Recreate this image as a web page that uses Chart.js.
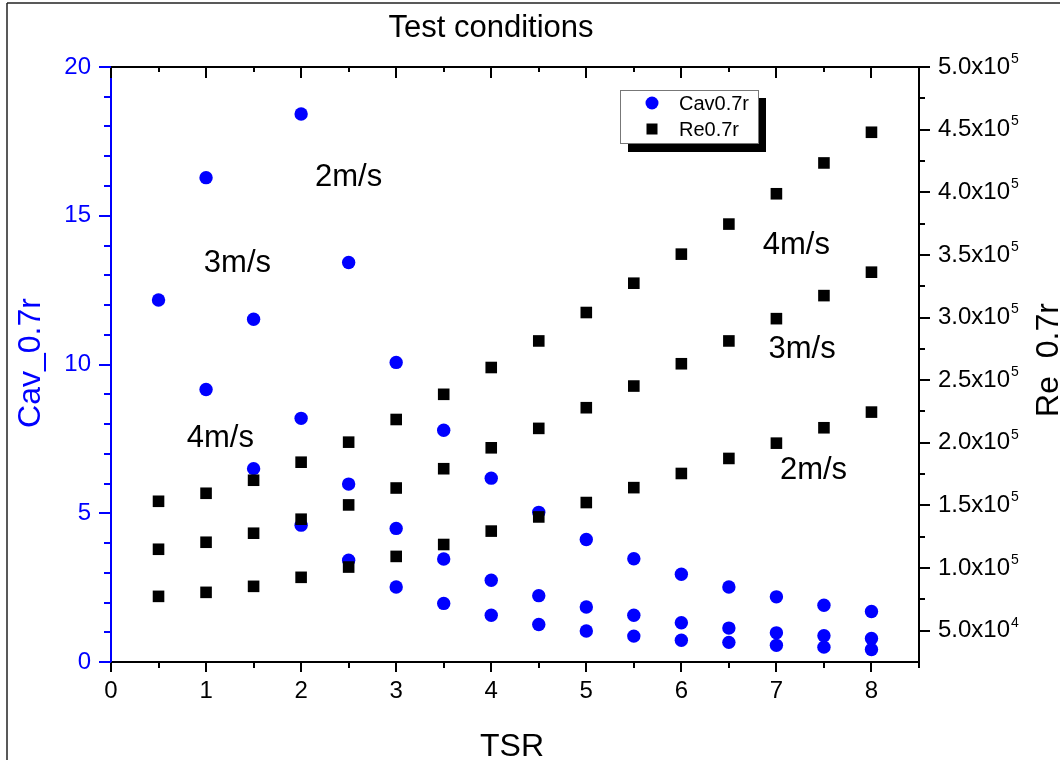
<!DOCTYPE html>
<html>
<head>
<meta charset="utf-8">
<title>Test conditions</title>
<script src="https://cdn.jsdelivr.net/npm/chart.js@4.4.0/dist/chart.umd.min.js"></script>
<style>
  html, body { margin: 0; padding: 0; background: #fff; }
  #wrap { width: 1060px; height: 760px; }
</style>
</head>
<body>
<div id="wrap"><canvas id="chart" width="1060" height="760"></canvas></div>
<script>
// --- values ---
const tsr = [0.5, 1, 1.5, 2, 2.5, 3, 3.5, 4, 4.5, 5, 5.5, 6, 6.5, 7, 7.5, 8];

// cavitation number at 0.7r (left axis), null where the point is above 20
const cav2 = [null, null, null, 18.42, 13.43, 10.07, 7.79, 6.18, 5.03, 4.12, 3.47, 2.95, 2.52, 2.19, 1.91, 1.70];
const cav3 = [null, 16.28, 11.52, 8.19, 5.98, 4.49, 3.46, 2.75, 2.23, 1.85, 1.57, 1.32, 1.14, 0.98, 0.88, 0.79];
const cav4 = [12.17, 9.16, 6.50, 4.60, 3.42, 2.52, 1.97, 1.57, 1.26, 1.04, 0.87, 0.73, 0.66, 0.56, 0.50, 0.42];

// Reynolds number at 0.7r (right axis)
const re2 = [77400, 80600, 85400, 92600, 100800, 109300, 118800, 129500, 140800, 152300, 164200, 175500, 187500, 199700, 212000, 224500];
const re3 = [115000, 120600, 127800, 139000, 150400, 163900, 179300, 196000, 211500, 228000, 245300, 263100, 281300, 299100, 317500, 336200];
const re4 = [153300, 159700, 170100, 184500, 200500, 218600, 238700, 260100, 281300, 304000, 327400, 350600, 374600, 398800, 423400, 447900];

// axis ticks
const xTicks = [0, 1, 2, 3, 4, 5, 6, 7, 8];
const xTickLabels = ['0', '1', '2', '3', '4', '5', '6', '7', '8'];
const cavTicks = [0, 5, 10, 15, 20];
const cavTickLabels = ['0', '5', '10', '15', '20'];
const reTicks = [50000, 100000, 150000, 200000, 250000, 300000, 350000, 400000, 450000, 500000];
const reTickLabels = ['5.0x10^4', '1.0x10^5', '1.5x10^5', '2.0x10^5', '2.5x10^5',
                      '3.0x10^5', '3.5x10^5', '4.0x10^5', '4.5x10^5', '5.0x10^5'];

// speed labels, anchored in TSR / Cav coordinates
const speedLabels = ['2m/s', '3m/s', '4m/s', '4m/s', '3m/s', '2m/s'];
const speedLabelTsr = [2.5, 1.33, 1.15, 7.21, 7.27, 7.39];
const speedLabelCav = [16.3, 13.4, 7.5, 14.0, 10.5, 6.45];

const FONT = '"Liberation Sans", Arial, sans-serif';
const BLUE = '#0000ff';

function points(values) {
    return tsr.map((t, i) => ({ x: t, y: values[i] })).filter(p => p.y !== null);
}

function cavSet(values) {
    return {
        label: 'Cav0.7r', data: points(values), yAxisID: 'y', order: 1,
        pointStyle: 'circle', pointRadius: 6.7,
        pointBackgroundColor: BLUE, pointBorderColor: BLUE, pointBorderWidth: 0
    };
}

function reSet(values) {
    return {
        label: 'Re0.7r', data: points(values), yAxisID: 'y2', order: 0,
        pointStyle: 'rect', pointRadius: 8.2,
        pointBackgroundColor: '#000', pointBorderColor: '#000', pointBorderWidth: 0
    };
}

function line(ctx, x1, y1, x2, y2) {
    ctx.beginPath();
    ctx.moveTo(x1, y1);
    ctx.lineTo(x2, y2);
    ctx.stroke();
}

// ticks, titles, labels and the legend box
const decorations = {
    id: 'decorations',
    afterDraw(chart) {
        const ctx = chart.ctx;
        const area = chart.chartArea;
        const xs = chart.scales.x, yl = chart.scales.y, yr = chart.scales.y2;
        ctx.save();

        // outer frame
        ctx.strokeStyle = '#222';
        ctx.lineWidth = 1.5;
        line(ctx, 7, 3, 7, 760);
        line(ctx, 7, 3, 1060, 3);

        // top axis line
        ctx.strokeStyle = '#000';
        ctx.lineWidth = 2;
        line(ctx, area.left - 1, area.top, area.right + 1, area.top);

        // x ticks, bottom (out) and top (in)
        for (let v = 0; v <= 8.5; v += 0.5) {
            const px = Math.round(xs.getPixelForValue(v));
            const major = v % 1 === 0;
            line(ctx, px, area.bottom, px, area.bottom + (major ? 10 : 6));
            line(ctx, px, area.top, px, area.top + (major ? 11 : 5));
        }

        // right ticks
        for (let v = 50000; v <= 500000; v += 25000) {
            const py = Math.round(yr.getPixelForValue(v));
            line(ctx, area.right, py, area.right + (v % 50000 === 0 ? 11 : 6), py);
        }

        // left ticks (blue)
        ctx.strokeStyle = BLUE;
        for (let v = 0; v <= 20; v++) {
            const py = Math.round(yl.getPixelForValue(v));
            line(ctx, area.left, py, area.left - (v % 5 === 0 ? 12 : 7), py);
        }

        // right tick labels with superscript exponents
        ctx.fillStyle = '#000';
        ctx.textAlign = 'left';
        ctx.textBaseline = 'middle';
        reTicks.forEach((v, i) => {
            const [base, exp] = reTickLabels[i].split('^');
            const py = yr.getPixelForValue(v);
            const lx = area.right + 19;
            ctx.font = '24px ' + FONT;
            ctx.fillText(base, lx, py);
            const w = ctx.measureText(base).width;
            ctx.font = '14px ' + FONT;
            ctx.fillText(exp, lx + w + 1, py - 8);
        });

        // title and axis titles
        ctx.textAlign = 'center';
        ctx.textBaseline = 'alphabetic';
        ctx.font = '31px ' + FONT;
        ctx.fillText('Test conditions', 491, 37);
        ctx.font = '32px ' + FONT;
        ctx.fillText('TSR', 512, 756);

        ctx.save();
        ctx.translate(40, 363);
        ctx.rotate(-Math.PI / 2);
        ctx.fillStyle = BLUE;
        ctx.fillText('Cav_0.7r', 0, 0);
        ctx.restore();

        ctx.save();
        ctx.translate(1058, 360);
        ctx.rotate(-Math.PI / 2);
        ctx.fillText('Re_0.7r', 0, 0);
        ctx.restore();

        // speed labels
        ctx.font = '31px ' + FONT;
        ctx.textBaseline = 'middle';
        speedLabels.forEach((txt, i) => {
            ctx.fillText(txt, xs.getPixelForValue(speedLabelTsr[i]), yl.getPixelForValue(speedLabelCav[i]));
        });

        // legend with drop shadow
        ctx.fillStyle = '#000';
        ctx.fillRect(628, 98, 138, 54);
        ctx.fillStyle = '#fff';
        ctx.fillRect(620, 90, 138, 53);
        ctx.strokeStyle = '#777';
        ctx.lineWidth = 1;
        ctx.strokeRect(620.5, 90.5, 138, 53);

        ctx.fillStyle = BLUE;
        ctx.beginPath();
        ctx.arc(652, 103, 6.5, 0, Math.PI * 2);
        ctx.fill();
        ctx.fillStyle = '#000';
        ctx.fillRect(646.5, 123.5, 11, 11);

        ctx.font = '20px ' + FONT;
        ctx.textAlign = 'left';
        ctx.fillText('Cav0.7r', 679, 104);
        ctx.fillText('Re0.7r', 679, 130);

        ctx.restore();
    }
};

new Chart(document.getElementById('chart'), {
    type: 'scatter',
    data: {
        datasets: [reSet(re2), reSet(re3), reSet(re4), cavSet(cav2), cavSet(cav3), cavSet(cav4)]
    },
    options: {
        responsive: false,
        animation: false,
        devicePixelRatio: 1,
        layout: { padding: { top: 67, left: 0, right: 0, bottom: 0 } },
        plugins: { legend: { display: false }, tooltip: { enabled: false } },
        scales: {
            x: {
                type: 'linear', position: 'bottom', min: 0, max: 8.5,
                afterBuildTicks: s => { s.ticks = xTicks.map(v => ({ value: v })); },
                afterFit: s => { s.height = 98; },
                ticks: {
                    callback: (v, i) => xTickLabels[i],
                    color: '#000', font: { family: FONT, size: 24 },
                    padding: 5, maxRotation: 0, autoSkip: false
                },
                grid: { drawOnChartArea: false, tickLength: 10, tickColor: 'transparent' },
                border: { color: '#000', width: 2 }
            },
            y: {
                type: 'linear', position: 'left', min: 0, max: 20,
                afterBuildTicks: s => { s.ticks = cavTicks.map(v => ({ value: v })); },
                afterFit: s => { s.width = 111; },
                ticks: {
                    callback: (v, i) => cavTickLabels[i],
                    color: BLUE, font: { family: FONT, size: 24 }, padding: 8
                },
                grid: { drawOnChartArea: false, tickLength: 12, tickColor: 'transparent' },
                border: { color: BLUE, width: 2 }
            },
            y2: {
                type: 'linear', position: 'right', min: 25000, max: 500000,
                afterBuildTicks: s => { s.ticks = reTicks.map(v => ({ value: v })); },
                afterFit: s => { s.width = 141; },
                ticks: { callback: () => '', font: { family: FONT, size: 24 } },
                grid: { drawOnChartArea: false, tickLength: 11, tickColor: 'transparent' },
                border: { color: '#000', width: 2 }
            }
        }
    },
    plugins: [decorations]
});
</script>
</body>
</html>
